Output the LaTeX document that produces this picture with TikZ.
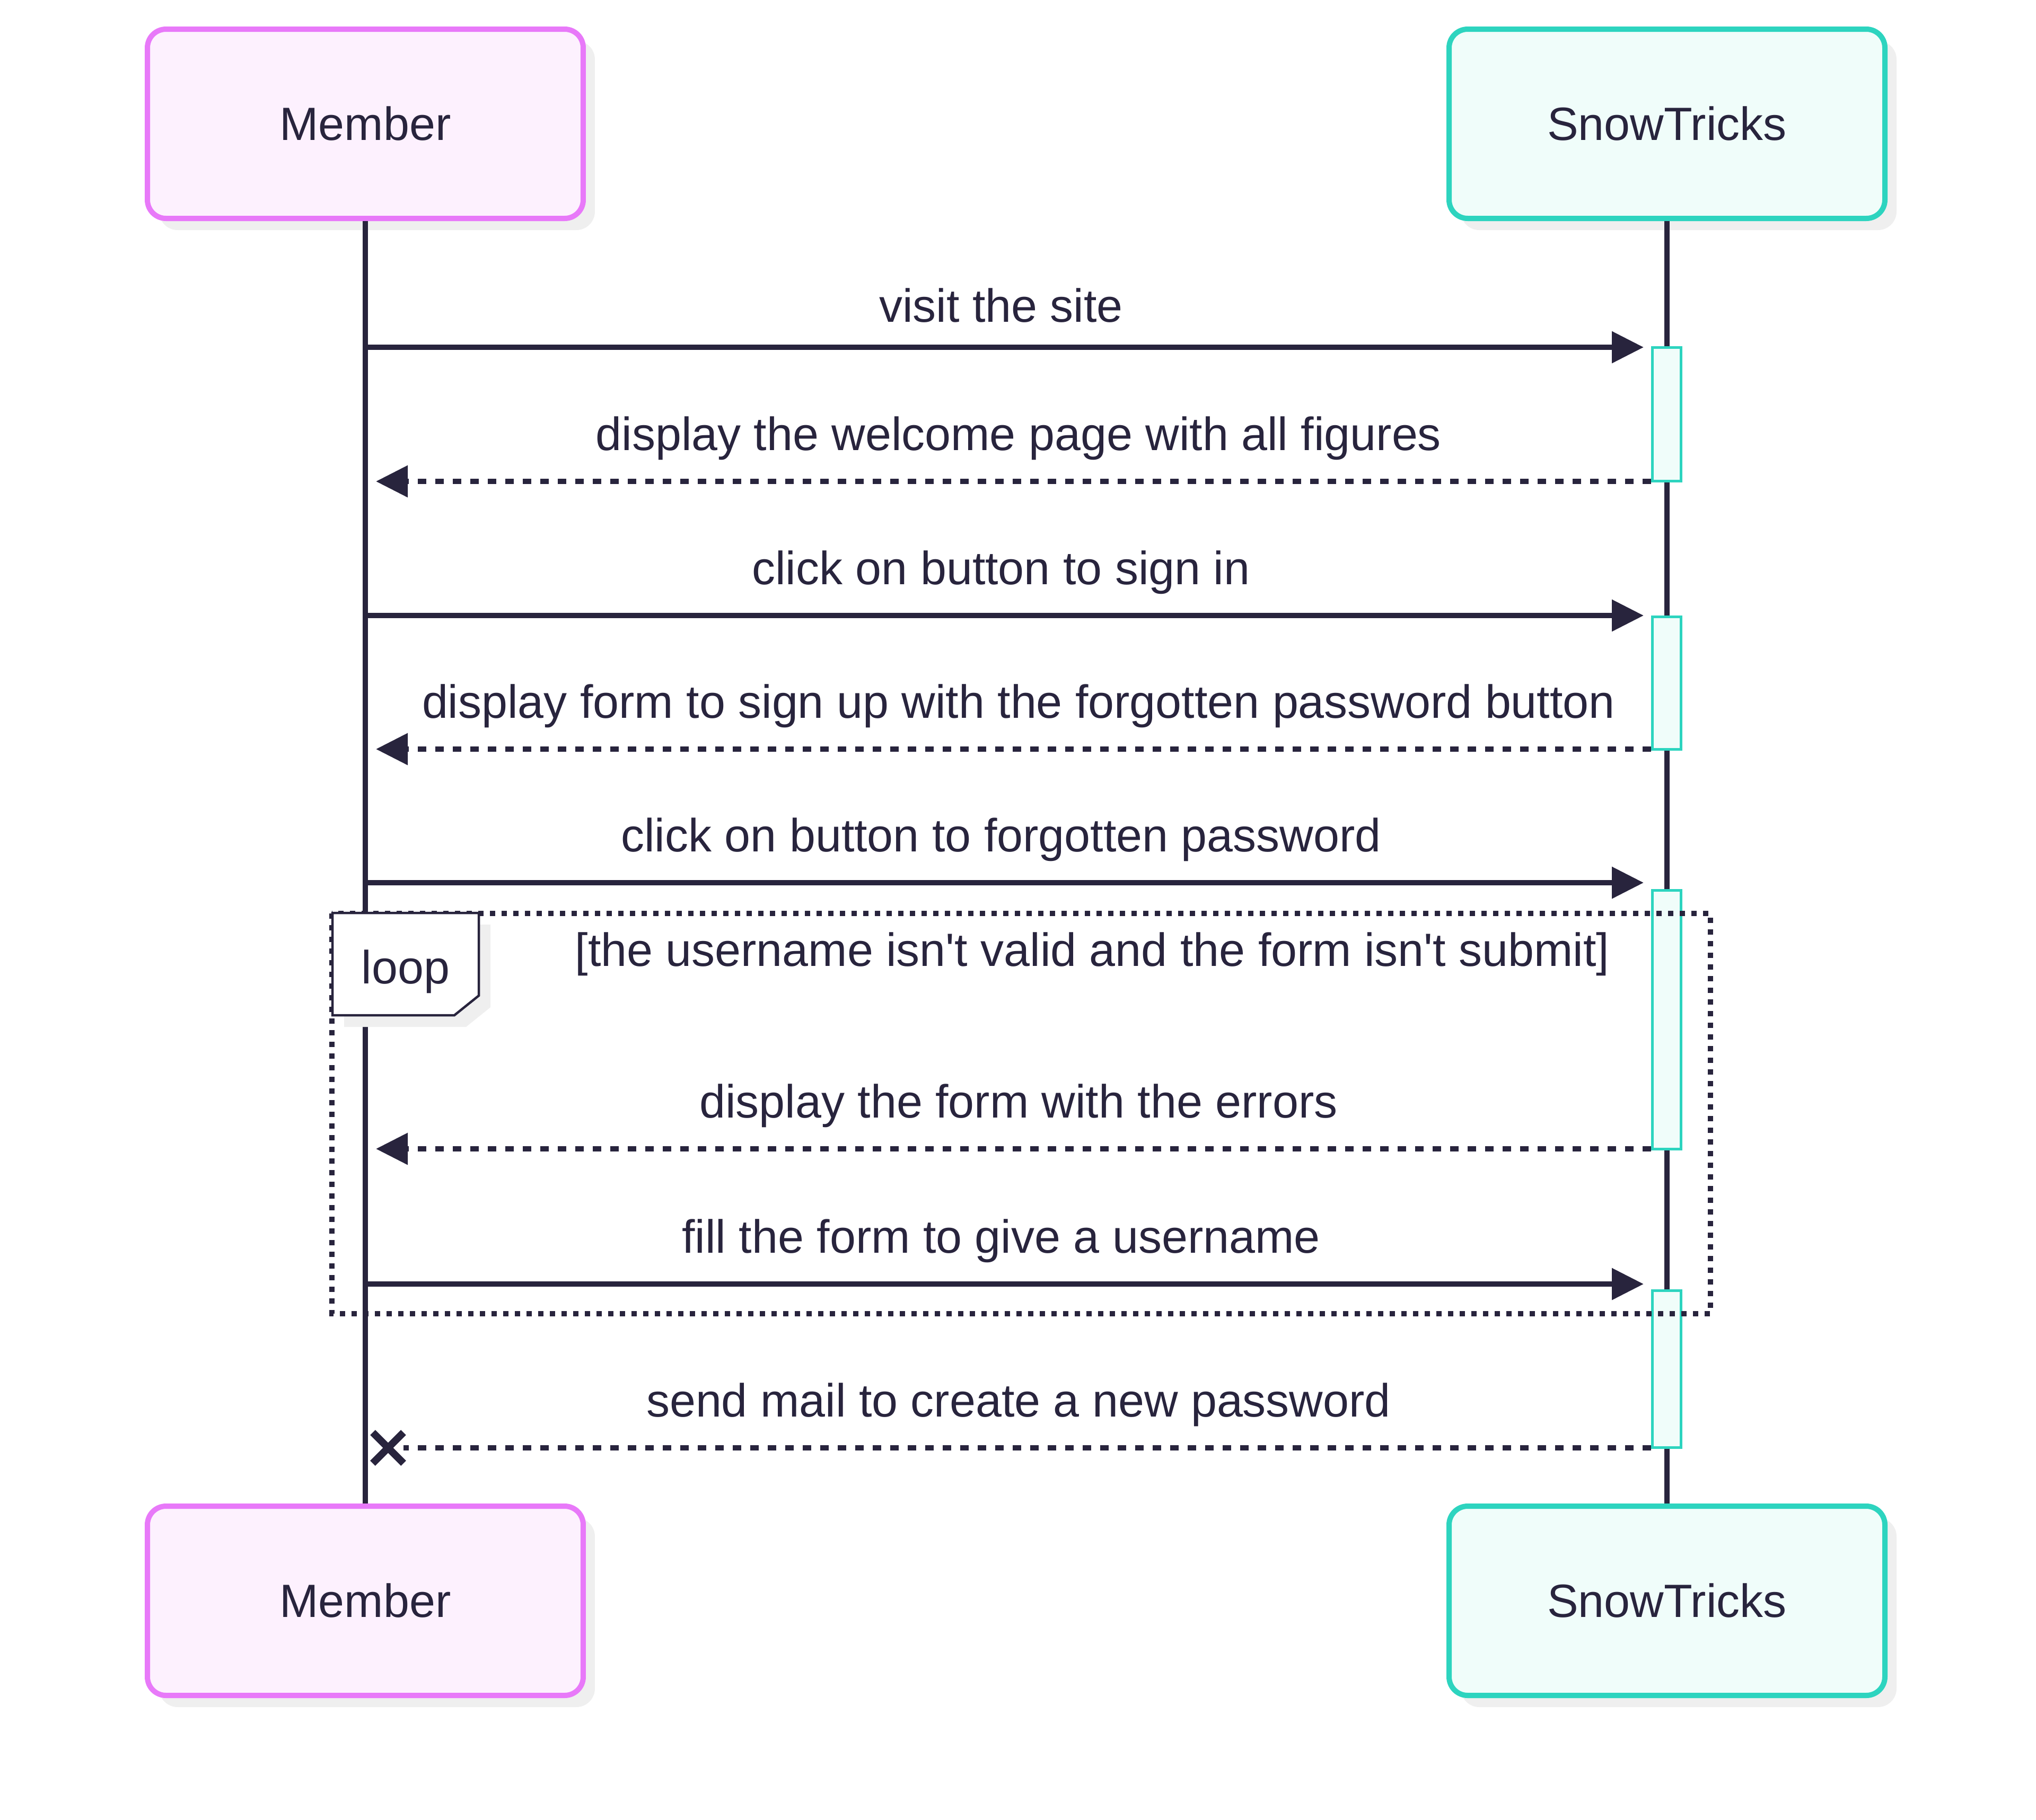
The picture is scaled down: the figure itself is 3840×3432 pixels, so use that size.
\documentclass[tikz,border=0pt]{standalone}
\usepackage{fontspec}
\setmainfont{Liberation Sans}[Ligatures=TeXOff]
\usetikzlibrary{arrows.meta,shadows}
\definecolor{ink}{HTML}{28243D}
\definecolor{pinkS}{HTML}{E879F9}
\definecolor{pinkF}{HTML}{FDF1FE}
\definecolor{tealS}{HTML}{2DD4BF}
\definecolor{tealF}{HTML}{F0FDFA}
\definecolor{shadowgray}{HTML}{EFEFEF}
\begin{document}
\begin{tikzpicture}[x=0.1pt,y=-0.1pt,
  txt/.style={text=ink, font=\fontsize{8.8pt}{10.5pt}\selectfont},
  actor/.style={txt, line width=1pt, rounded corners=3.5pt, minimum width=82.2pt,
    minimum height=35.7pt, inner sep=0pt,
    general shadow={fill=shadowgray, shadow xshift=2.2pt, shadow yshift=-2.2pt}},
  actorM/.style={actor, draw=pinkS, fill=pinkF},
  actorS/.style={actor, draw=tealS, fill=tealF},
  lifeline/.style={draw=ink, line width=1pt},
  act/.style={draw=tealS, fill=tealF, line width=0.5pt},
  msg/.style={draw=ink, line width=1pt, -{Triangle[length=6pt,width=5.8pt]}},
  ret/.style={msg, dash pattern=on 1.6pt off 1.7pt},
  retx/.style={draw=ink, line width=1pt, dash pattern=on 1.6pt off 1.7pt},
  loopline/.style={draw=ink, line width=1pt, dash pattern=on 1pt off 1.2pt},
  lbl/.style={txt, anchor=base, inner sep=0pt},
  xbox/.style={inner sep=0pt, minimum size=5.4pt},
  xline/.style={draw=ink, line width=1.35pt}
]
\useasboundingbox (0,0) rectangle (3840,3432);

% actors
\node[actorM] (mt) at (689,233.5) {Member};
\node[actorS] (st) at (3144,233.5) {SnowTricks};
\node[actorM] (mb) at (689,3019.5) {Member};
\node[actorS] (sb) at (3144,3019.5) {SnowTricks};

% lifelines
\draw[lifeline] (mt.south) -- (mb.north);
\draw[lifeline] (st.south) -- (sb.north);

% activations
\draw[act] (3116.5,655.5) rectangle (3170.5,907.5);
\draw[act] (3116.5,1163.5) rectangle (3170.5,1413.5);
\draw[act] (3116.5,1679.5) rectangle (3170.5,2167.5);
\draw[act] (3116.5,2434.5) rectangle (3170.5,2730.5);

% loop frame
\draw[loopline] (626,1723) rectangle (3226,2478);

% message coordinates
\coordinate (m1a) at (688,655);  \coordinate (m1b) at (3100,655);
\coordinate (m2a) at (3114,908); \coordinate (m2b) at (709,908);
\coordinate (m3a) at (688,1161); \coordinate (m3b) at (3100,1161);
\coordinate (m4a) at (3114,1413);\coordinate (m4b) at (709,1413);
\coordinate (m5a) at (688,1665); \coordinate (m5b) at (3100,1665);
\coordinate (m6a) at (3114,2167);\coordinate (m6b) at (709,2167);
\coordinate (m7a) at (688,2422); \coordinate (m7b) at (3100,2422);
\coordinate (m8a) at (3114,2731);

\draw[msg] (m1a) -- (m1b);
\draw[ret] (m2a) -- (m2b);
\draw[msg] (m3a) -- (m3b);
\draw[ret] (m4a) -- (m4b);
\draw[msg] (m5a) -- (m5b);
\draw[ret] (m6a) -- (m6b);
\draw[msg] (m7a) -- (m7b);
\node[xbox] (xm) at (732,2731) {};
\draw[retx] (m8a) -- (xm.east);
\draw[xline] (xm.north west) -- (xm.south east);
\draw[xline] (xm.south west) -- (xm.north east);

% loop label
\fill[shadowgray] (649,1744) -- (925,1744) -- (925,1900) -- (879,1937) -- (649,1937) -- cycle;
\draw[draw=ink, fill=white, line width=0.45pt] (627,1722) -- (903,1722) -- (903,1878) -- (857,1915) -- (627,1915) -- cycle;
\node[lbl] (looptxt) at (765,1855) {loop};
\node[lbl] (cond) at (2060,1822) {[the username isn't valid and the form isn't submit]};

% message labels
\node[lbl] (l1) at (1888,607) {visit the site};
\node[lbl] (l2) at (1921,849) {display the welcome page with all figures};
\node[lbl] (l3) at (1888,1102) {click on button to sign in};
\node[lbl] (l4) at (1921,1354) {display form to sign up with the forgotten password button};
\node[lbl] (l5) at (1888,1606) {click on button to forgotten password};
\node[lbl] (l6) at (1921,2108) {display the form with the errors};
\node[lbl] (l7) at (1888,2363) {fill the form to give a username};
\node[lbl] (l8) at (1921,2672) {send mail to create a new password};
\end{tikzpicture}
\end{document}
